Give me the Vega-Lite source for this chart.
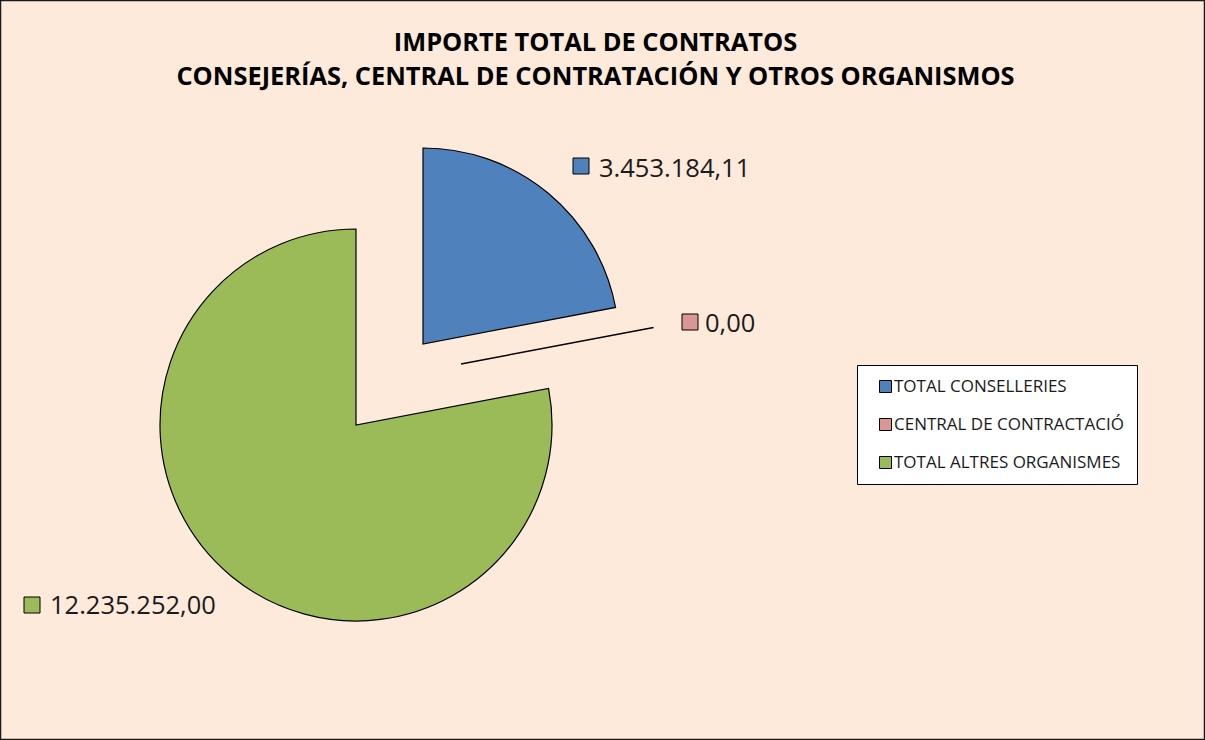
{
  "$schema": "https://vega.github.io/schema/vega-lite/v6.json",
  "width": 1205,
  "height": 740,
  "autosize": {"type": "fit", "contains": "padding"},
  "padding": 0,
  "background": "#FDEADA",
  "view": {"stroke": "#1a1a1a", "strokeWidth": 2.5, "fill": "#FDEADA"},
  "config": {
    "locale": {"number": {"decimal": ",", "thousands": ".", "grouping": [3], "currency": ["", " €"]}}
  },
  "title": {
    "text": ["IMPORTE TOTAL DE CONTRATOS", "CONSEJERÍAS, CENTRAL DE CONTRATACIÓN  Y OTROS ORGANISMOS"],
    "anchor": "middle",
    "offset": -90,
    "dx": -7,
    "font": "Open Sans",
    "fontSize": 25.4,
    "fontWeight": "bold",
    "color": "#000000",
    "lineHeight": 34
  },
  "data": {
    "values": [
      {"categoria": "TOTAL CONSELLERIES", "importe": 3453184.11},
      {"categoria": "CENTRAL DE CONTRACTACIÓ", "importe": 0},
      {"categoria": "TOTAL ALTRES ORGANISMES", "importe": 12235252.00}
    ]
  },
  "transform": [{"stack": "importe", "groupby": [], "as": ["ini", "fin"]}],
  "layer": [
    {
      "transform": [{"filter": "datum.categoria === 'TOTAL ALTRES ORGANISMES'"}],
      "layer": [
        {
          "mark": {"type": "arc", "x": 356, "y": 425, "radius": 196, "stroke": "#000000", "strokeWidth": 1.2},
          "encoding": {
            "theta": {"field": "ini", "type": "quantitative", "scale": {"domain": [0, 15688436.11], "nice": false}},
            "theta2": {"field": "fin"},
            "color": {
              "field": "categoria",
              "type": "nominal",
              "scale": {
                "domain": ["TOTAL CONSELLERIES", "CENTRAL DE CONTRACTACIÓ", "TOTAL ALTRES ORGANISMES"],
                "range": ["#4F81BD", "#D99694", "#9BBB59"]
              },
              "legend": {
                "title": null,
                "orient": "none",
                "legendX": 857,
                "legendY": 365,
                "fillColor": "#FFFFFF",
                "strokeColor": "#000000",
                "padding": 13,
                "symbolType": "square",
                "symbolSize": 144,
                "symbolStrokeColor": "#000000",
                "symbolStrokeWidth": 1,
                "symbolOffset": 7,
                "labelFont": "Open Sans",
                "labelFontSize": 17,
                "labelColor": "#1a1a1a",
                "labelOffset": 0,
                "labelLimit": 400,
                "rowPadding": 20
              }
            }
          }
        },
        {
          "mark": {"type": "point", "shape": "square", "filled": true, "size": 256, "x": 32, "y": 605, "stroke": "#000000", "strokeWidth": 1, "opacity": 1},
          "encoding": {"color": {"field": "categoria", "type": "nominal"}}
        },
        {
          "mark": {"type": "text", "x": 50, "y": 614, "align": "left", "baseline": "alphabetic", "font": "Open Sans", "fontSize": 25.5, "color": "#1a1a1a"},
          "encoding": {"text": {"field": "importe", "type": "quantitative", "format": ",.2f"}}
        }
      ]
    },
    {
      "transform": [{"filter": "datum.categoria === 'TOTAL CONSELLERIES'"}],
      "layer": [
        {
          "mark": {"type": "arc", "x": 423, "y": 344, "radius": 196, "stroke": "#000000", "strokeWidth": 1.2},
          "encoding": {
            "theta": {"field": "ini", "type": "quantitative", "scale": {"domain": [0, 15688436.11], "nice": false}},
            "theta2": {"field": "fin"},
            "color": {"field": "categoria", "type": "nominal"}
          }
        },
        {
          "mark": {"type": "point", "shape": "square", "filled": true, "size": 256, "x": 581, "y": 166, "stroke": "#000000", "strokeWidth": 1, "opacity": 1},
          "encoding": {"color": {"field": "categoria", "type": "nominal"}}
        },
        {
          "mark": {"type": "text", "x": 599, "y": 177, "align": "left", "baseline": "alphabetic", "font": "Open Sans", "fontSize": 25.5, "color": "#1a1a1a"},
          "encoding": {"text": {"field": "importe", "type": "quantitative", "format": ",.2f"}}
        }
      ]
    },
    {
      "transform": [{"filter": "datum.categoria === 'CENTRAL DE CONTRACTACIÓ'"}],
      "layer": [
        {
          "mark": {"type": "arc", "x": 461, "y": 364, "radius": 196, "stroke": "#000000", "strokeWidth": 1.5},
          "encoding": {
            "theta": {"field": "ini", "type": "quantitative", "scale": {"domain": [0, 15688436.11], "nice": false}},
            "theta2": {"field": "fin"},
            "color": {"field": "categoria", "type": "nominal"}
          }
        },
        {
          "mark": {"type": "point", "shape": "square", "filled": true, "size": 256, "x": 690, "y": 322, "stroke": "#000000", "strokeWidth": 1, "opacity": 1},
          "encoding": {"color": {"field": "categoria", "type": "nominal"}}
        },
        {
          "mark": {"type": "text", "x": 705, "y": 332, "align": "left", "baseline": "alphabetic", "font": "Open Sans", "fontSize": 25.5, "color": "#1a1a1a"},
          "encoding": {"text": {"field": "importe", "type": "quantitative", "format": ",.2f"}}
        }
      ]
    }
  ]
}
